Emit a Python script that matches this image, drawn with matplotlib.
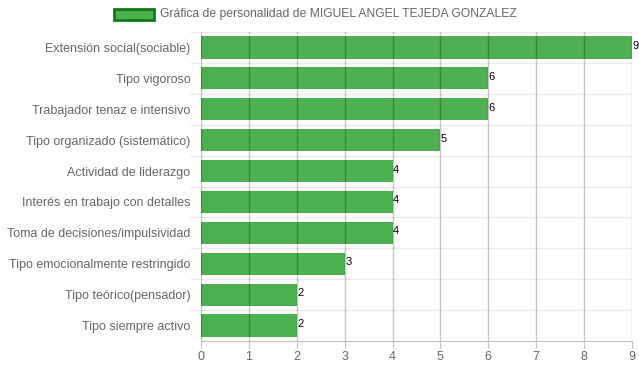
import matplotlib
matplotlib.use("Agg")
import matplotlib.pyplot as plt
from matplotlib.patches import Rectangle

plt.rcParams['font.family'] = ['Liberation Sans', 'DejaVu Sans']

# datos de la gráfica
CATEGORIAS = [
    "Extensión social(sociable)",
    "Tipo vigoroso",
    "Trabajador tenaz e intensivo",
    "Tipo organizado (sistemático)",
    "Actividad de liderazgo",
    "Interés en trabajo con detalles",
    "Toma de decisiones/impulsividad",
    "Tipo emocionalmente restringido",
    "Tipo teórico(pensador)",
    "Tipo siempre activo",
]
VALORES = [9, 6, 6, 5, 4, 4, 4, 3, 2, 2]
TICKS_X = list(range(0, 10))
TITULO_LEYENDA = "Gráfica de personalidad de MIGUEL ANGEL TEJEDA GONZALEZ"

VERDE = "#4caf50"
GRIS_TEXTO = "#666666"

W, H = 639, 372
fig = plt.figure(figsize=(W / 100, H / 100), dpi=100)
ax = fig.add_axes([201 / W, 1 - 341 / H, 431 / W, 309 / H])

pos = list(range(len(CATEGORIAS)))
ax.barh(pos, VALORES, height=0.72, color=VERDE, zorder=2)

# etiquetas de valor al final de cada barra
for y, v in zip(pos, VALORES):
    ax.text(v + 0.01, y + 0.05, str(v), fontsize=8, color="black",
            ha="left", va="baseline", zorder=4, clip_on=False)

ax.set_xlim(0, 9)
ax.set_ylim(len(CATEGORIAS) - 0.5, -0.5)
ax.set_xticks(TICKS_X)
ax.set_yticks(pos)
ax.set_yticklabels(CATEGORIAS)

# rejilla vertical (semitransparente, por encima de las barras)
for t in TICKS_X:
    ax.axvline(t, color="black", alpha=0.22, lw=1, zorder=3)
# rejilla horizontal entre categorías
bordes = [i - 0.5 for i in range(len(CATEGORIAS))]
ax.hlines(bordes, -0.025, 1, transform=ax.get_yaxis_transform(),
          color="#ebebeb", lw=1, clip_on=False, zorder=0)

for s in ["top", "right", "left"]:
    ax.spines[s].set_visible(False)
ax.spines["bottom"].set_color("#c0c0c0")

ax.tick_params(axis="x", length=5, color="#c0c0c0", labelcolor=GRIS_TEXTO,
               labelsize=9, pad=2)
ax.tick_params(axis="y", length=0, labelcolor=GRIS_TEXTO, labelsize=9, pad=7.5)

# leyenda
fig.patches.append(Rectangle((114 / W, 1 - 20 / H), 40 / W, 11 / H,
                             transform=fig.transFigure, facecolor=VERDE,
                             edgecolor="#0f7a12", lw=2))
fig.text(160 / W, 1 - 14 / H, TITULO_LEYENDA, fontsize=8.75,
         color=GRIS_TEXTO, ha="left", va="center")

fig.savefig("out.png", dpi=100)
